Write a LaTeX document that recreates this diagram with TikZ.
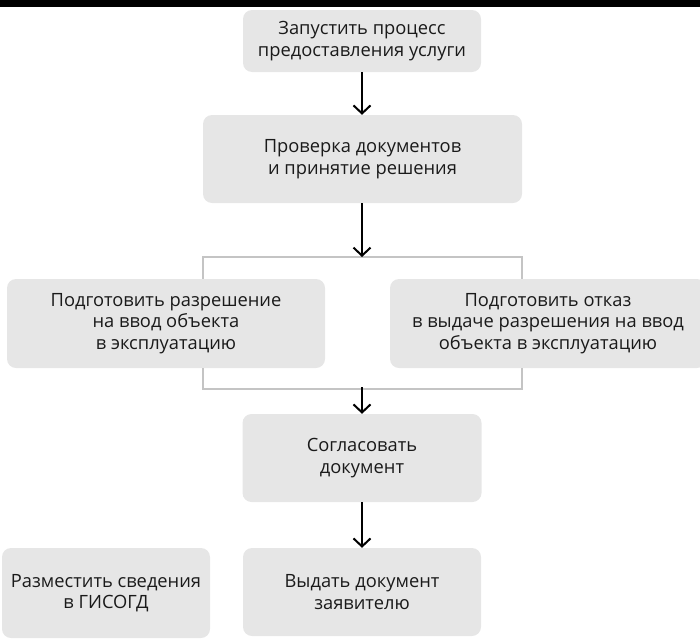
\documentclass[tikz,border=0pt]{standalone}
\usepackage{fontspec}
\setmainfont{Open Sans}
\usetikzlibrary{arrows.meta}
\definecolor{boxgray}{HTML}{E6E6E6}
\definecolor{linegray}{HTML}{C4C4C4}
\definecolor{ink}{HTML}{1A1A1A}
\begin{document}
\begin{tikzpicture}[x=1pt,y=-1pt,
  box/.style={fill=boxgray,rounded corners=9pt,align=center,text=ink,
    font=\fontsize{18.3}{21.5}\selectfont,inner sep=0pt},
  arr/.style={-{Straight Barb[length=8pt,width=17pt]},line width=2pt,black},
  link/.style={line width=2pt,linegray}]
\useasboundingbox (0,0) rectangle (700,640);
\fill[black] (0,0) rectangle (700,7);
% steps
\node[box,minimum width=238pt,minimum height=62pt] (start) at (362,41)
  {Запустить процесс\\предоставления услуги};
\node[box,minimum width=319pt,minimum height=88pt] (check) at (362.5,159)
  {Проверка документов\\и принятие решения};
\node[box,minimum width=318pt,minimum height=89pt] (permit) at (166,323.5)
  {Подготовить разрешение\\на ввод объекта\\в эксплуатацию};
\node[box,minimum width=316pt,minimum height=89pt] (refuse) at (548,323.5)
  {Подготовить отказ\\в выдаче разрешения на ввод\\объекта в эксплуатацию};
\node[box,minimum width=239pt,minimum height=88pt] (approve) at (362,458)
  {Согласовать\\документ};
\node[box,minimum width=238pt,minimum height=88pt] (issue) at (362,592)
  {Выдать документ\\заявителю};
\node[box,minimum width=208pt,minimum height=90pt] (publish) at (106,593)
  {Разместить сведения\\в ГИСОГД};
% branch and merge
\coordinate (split) at (362,257);
\coordinate (merge) at (362,389);
\draw[link] (check.south west |- permit.north) |- (split) -| (check.south east |- refuse.north);
\draw[link] (check.south west |- permit.south) |- (merge) -| (check.south east |- refuse.south);
% arrows
\draw[arr] (start) -- (start |- check.north);
\draw[arr] (check.south -| split) -- (split);
\draw[arr] ([yshift=2pt]merge) -- (merge |- approve.north);
\draw[arr] (approve) -- (approve |- issue.north);
\end{tikzpicture}
\end{document}
